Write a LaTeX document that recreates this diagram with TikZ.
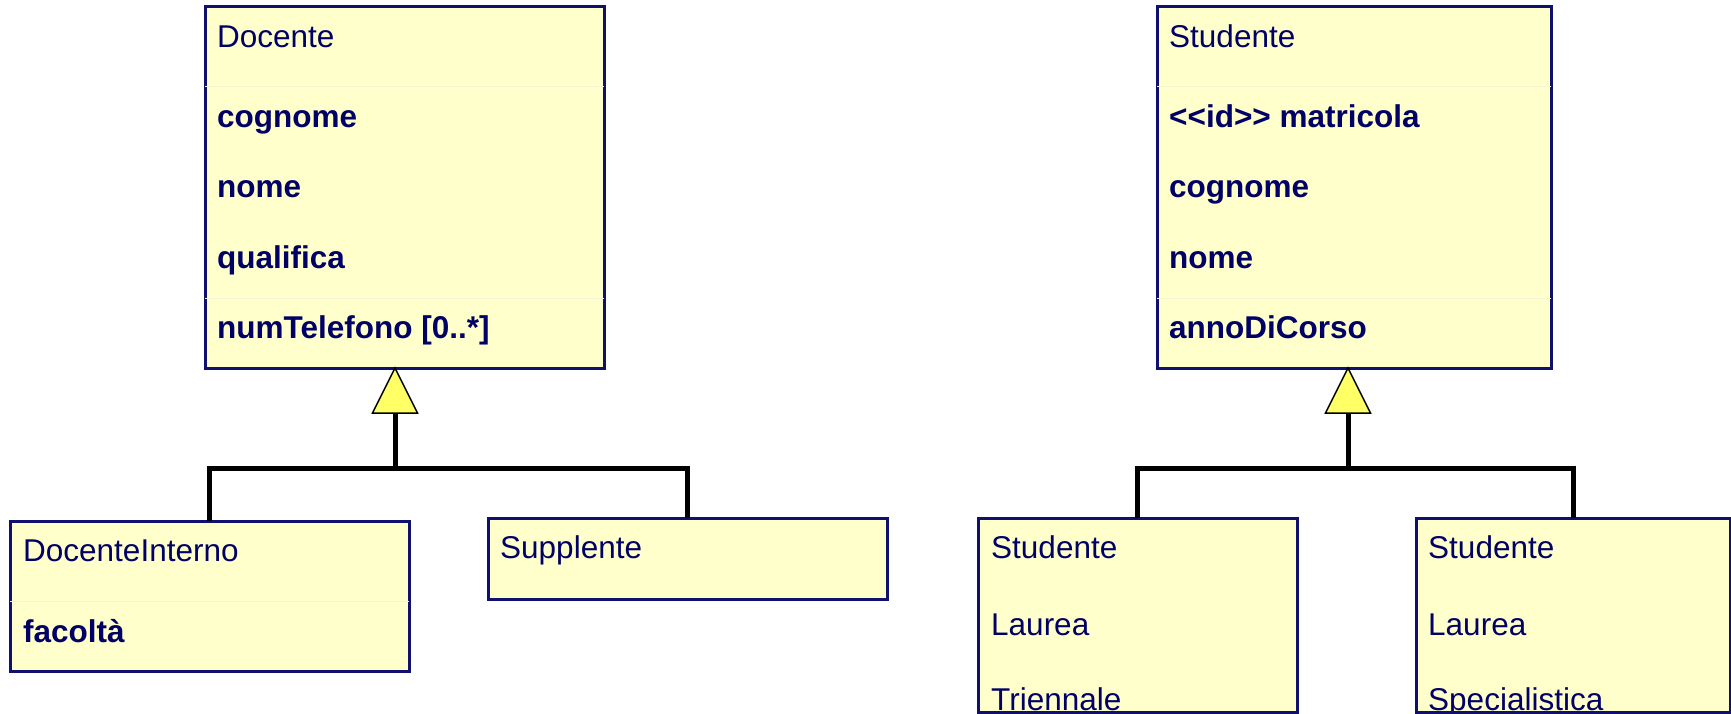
\documentclass[tikz,border=0pt]{standalone}
\usepackage{fontspec}
\setmainfont{Liberation Sans}
\usetikzlibrary{calc}
\definecolor{boxfill}{HTML}{FFFFCC}
\definecolor{boxline}{HTML}{10106E}
\definecolor{umltext}{HTML}{000066}
\definecolor{headfill}{HTML}{FFFF66}
\definecolor{sepline}{HTML}{F3F3D6}

\begin{document}
\begin{tikzpicture}[x=1pt,y=-1pt,
  classbox/.style={draw=boxline, fill=boxfill, line width=3pt, rectangle,
    anchor=north west, inner sep=0pt, outer sep=0pt},
  clsname/.style={anchor=base west, inner sep=0pt, text=umltext,
    font=\fontsize{31.5}{36}\selectfont},
  clsattr/.style={clsname, font=\fontsize{31.5}{36}\selectfont\bfseries},
  gen/.style={draw=black, line width=5pt},
  genhead/.style={draw=black, fill=headfill, line width=1.5pt, line join=miter},
  sep/.style={draw=sepline, line width=1pt}]
\useasboundingbox (0,0) rectangle (1731,713);
\clip (0,0) rectangle (1731,713);

% ---------- Docente hierarchy ----------
\node[classbox, minimum width=399pt, minimum height=362pt] (docente) at (205,6) {};
\draw[sep] (docente.west |- 0,86) -- (docente.east |- 0,86);
\draw[sep] (docente.west |- 0,298) -- (docente.east |- 0,298);
\node[clsname] (docName) at (217,47) {Docente};
\node[clsattr] (docA1) at (217,127) {cognome};
\node[clsattr] (docA2) at (217,197) {nome};
\node[clsattr] (docA3) at (217,268) {qualifica};
\node[clsattr] (docA4) at (217,338) {numTelefono [0..*]};

\node[classbox, minimum width=399pt, minimum height=150pt] (interno) at (10,521) {};
\draw[sep] (interno.west |- 0,601) -- (interno.east |- 0,601);
\node[clsname] (intName) at (23,561) {DocenteInterno};
\node[clsattr] (intA1) at (23,642) {facoltà};

\node[classbox, minimum width=399pt, minimum height=81pt] (supplente) at (488,518) {};
\node[clsname] (supName) at (500,558) {Supplente};

\coordinate (docApex) at ($(docente.south)+(-9.5,0)$);
\coordinate (docBase) at ($(docApex)+(0,45)$);
\coordinate (docJoin) at ($(docBase)+(0,55)$);
\draw[gen] (docBase) -- (docJoin);
\draw[gen] (interno.north) |- (docJoin) -| (supplente.north);
\draw[genhead] (docApex) -- ($(docBase)+(22.5,0)$) -- ($(docBase)+(-22.5,0)$) -- cycle;

% ---------- Studente hierarchy ----------
\node[classbox, minimum width=394pt, minimum height=362pt] (studente) at (1157,6) {};
\draw[sep] (studente.west |- 0,86) -- (studente.east |- 0,86);
\draw[sep] (studente.west |- 0,298) -- (studente.east |- 0,298);
\node[clsname] (stuName) at (1169,47) {Studente};
\node[clsattr] (stuA1) at (1169,127) {{<}{<}id{>}{>} matricola};
\node[clsattr] (stuA2) at (1169,197) {cognome};
\node[clsattr] (stuA3) at (1169,268) {nome};
\node[clsattr] (stuA4) at (1169,338) {annoDiCorso};

\node[classbox, minimum width=319pt, minimum height=194pt] (triennale) at (978,518) {};
\begin{scope}
  \clip (triennale.north west) rectangle (triennale.south east);
  \node[clsname] (triL1) at (991,558) {Studente};
  \node[clsname] (triL2) at (991,635) {Laurea};
  \node[clsname] (triL3) at (991,710) {Triennale};
\end{scope}
\draw[boxline, line width=3pt] (triennale.south west) -- (triennale.south east);

\node[classbox, minimum width=314pt, minimum height=194pt] (specialistica) at (1416,518) {};
\begin{scope}
  \clip (specialistica.north west) rectangle (specialistica.south east);
  \node[clsname] (speL1) at (1428,558) {Studente};
  \node[clsname] (speL2) at (1428,635) {Laurea};
  \node[clsname] (speL3) at (1428,710) {Specialistica};
\end{scope}
\draw[boxline, line width=3pt] (specialistica.south west) -- (specialistica.south east);

\coordinate (stuApex) at ($(studente.south)+(-6,0)$);
\coordinate (stuBase) at ($(stuApex)+(0,45)$);
\coordinate (stuJoin) at ($(stuBase)+(0,55)$);
\draw[gen] (stuBase) -- (stuJoin);
\draw[gen] (triennale.north) |- (stuJoin) -| (specialistica.north);
\draw[genhead] (stuApex) -- ($(stuBase)+(22.5,0)$) -- ($(stuBase)+(-22.5,0)$) -- cycle;
\end{tikzpicture}
\end{document}
